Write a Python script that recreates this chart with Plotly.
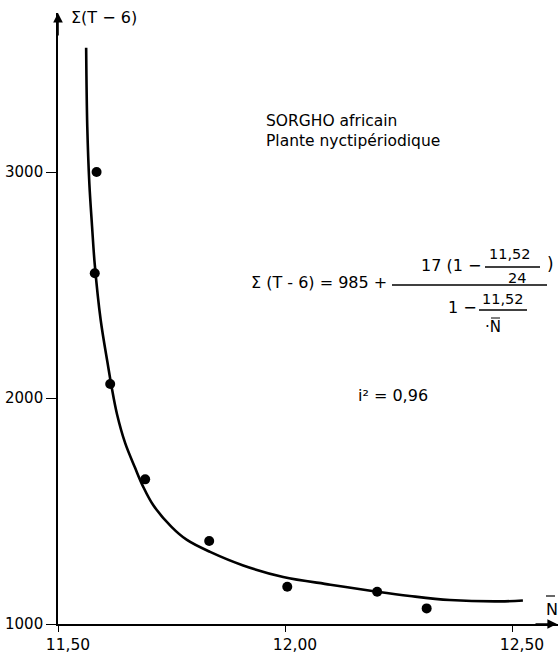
import plotly.graph_objects as go

# ---- data ----
obs_N = [11.585, 11.581, 11.615, 11.692, 11.833, 12.005, 12.203, 12.312]
obs_sum = [3000, 2552, 2062, 1640, 1367, 1165, 1143, 1069]

curve_N = [11.562, 11.5645, 11.569, 11.575, 11.581, 11.594, 11.610, 11.618, 11.630,
           11.648, 11.670, 11.687, 11.710, 11.750, 11.784, 11.835, 11.908, 11.996,
           12.100, 12.203, 12.275, 12.363, 12.474, 12.524]
curve_sum = [3550, 3200, 2950, 2760, 2590, 2345, 2145, 2050, 1928,
             1800, 1690, 1610, 1525, 1430, 1372, 1319, 1259, 1208,
             1174, 1143, 1124, 1106, 1100, 1104]

x_tickvals = [11.5, 12.0, 12.5]
x_ticktext = ["11,50", "12,00", "12,50"]
y_tickvals = [1000, 2000, 3000]
y_ticktext = ["1000", "2000", "3000"]

W, H = 558, 653
L, R, T, B = 58, 0, 13, 29
PW, PH = W - L - R, H - T - B
FONT = "DejaVu Sans, Verdana, sans-serif"


def px(x):  # screen pixel -> paper
    return (x - L) / PW


def py(y):
    return (H - B - y) / PH


fig = go.Figure()
fig.add_trace(go.Scatter(x=curve_N, y=curve_sum, mode="lines",
                         line=dict(color="black", width=2.6, shape="spline", smoothing=1.0),
                         hoverinfo="skip", showlegend=False))
fig.add_trace(go.Scatter(x=obs_N, y=obs_sum, mode="markers",
                         marker=dict(color="black", size=10),
                         showlegend=False))

fig.update_layout(
    width=W, height=H,
    margin=dict(l=L, r=R, t=T, b=B, pad=0),
    paper_bgcolor="white", plot_bgcolor="white",
    font=dict(family=FONT, color="black", size=15),
    xaxis=dict(range=[11.5, 11.5 + PW / 454], tickvals=x_tickvals, ticktext=x_ticktext,
               showgrid=False, zeroline=False, showline=True, linecolor="black",
               linewidth=1.6, ticks="outside", ticklen=6, tickwidth=1.2,
               tickcolor="black", tickfont=dict(size=15.5, family=FONT),
               ticklabelshift=10, automargin=False),
    yaxis=dict(range=[1000, 1000 + PH / 0.226], tickvals=y_tickvals, ticktext=y_ticktext,
               showgrid=False, zeroline=False, showline=True, linecolor="black",
               linewidth=1.6, ticks="outside", ticklen=10, tickwidth=1.2,
               tickcolor="black", tickfont=dict(size=15, family=FONT),
               automargin=False),
)

ann = []


def txt(text, x, y, size=15.5, xanchor="left"):
    ann.append(dict(text=text, x=px(x), y=py(y), xref="paper", yref="paper",
                    xanchor=xanchor, yanchor="middle", showarrow=False,
                    font=dict(size=size, family=FONT, color="black")))


# axis arrows
ann.append(dict(x=0, y=1, xref="paper", yref="paper", ax=0, ay=24, text="",
                showarrow=True, arrowhead=2, arrowsize=1.2, arrowwidth=1.6,
                arrowcolor="black"))
ann.append(dict(x=1, y=0, xref="paper", yref="paper", ax=-24, ay=0, text="",
                showarrow=True, arrowhead=2, arrowsize=1.2, arrowwidth=1.6,
                arrowcolor="black"))

# axis titles
txt("Σ(T − 6)", 69, 18, 16)
txt("N", 544, 609, 16)

# titles
txt("SORGHO africain", 264, 121, 15.5)
txt("Plante nyctipériodique", 264, 141, 15.5)

# equation
txt("Σ (T - 6) = 985 +", 249, 282, 16)
txt("17 (1 −", 419, 265, 16)
txt("11,52", 510, 254, 14.5, "center")
txt("24", 517, 278, 14.5, "center")
txt(")", 545, 264, 17)
txt("1 −", 446, 308, 16)
txt("11,52", 503, 299, 14.5, "center")
txt("·N", 493, 327, 15, "center")
txt("i² = 0,96", 356, 396, 16)

fig.update_layout(annotations=ann)

shapes = []


def hline(x0, x1, y, w=1.3):
    shapes.append(dict(type="line", xref="paper", yref="paper",
                       x0=px(x0), x1=px(x1), y0=py(y), y1=py(y),
                       line=dict(color="black", width=w)))


hline(392, 547, 285)       # main fraction bar
hline(485, 540, 267)       # 11,52 / 24
hline(479, 527, 310)       # 11,52 / N
hline(491, 500, 318, 1)    # bar over N in denominator
hline(546, 555, 596, 1.2)  # bar over N axis title
fig.update_layout(shapes=shapes)

fig.write_html("out.html",
               config={"displayModeBar": False},
               post_script="document.body.style.margin='0';"
                           "document.body.style.overflow='hidden';"
                           "document.documentElement.style.overflow='hidden';")
